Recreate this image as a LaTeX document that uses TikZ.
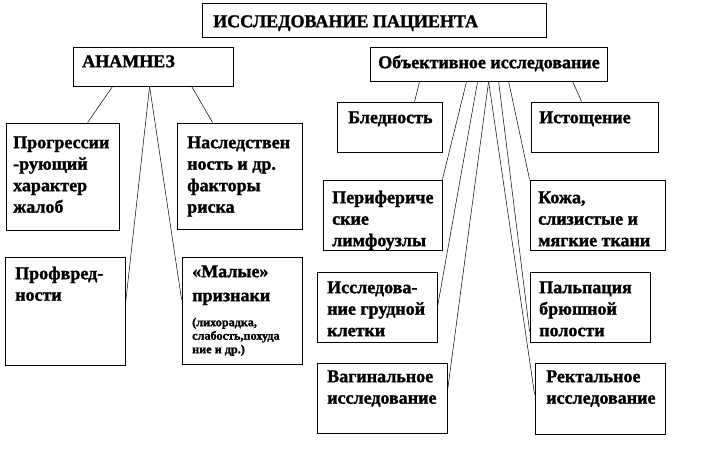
\documentclass[tikz,border=0pt]{standalone}
\usepackage{fontspec}
\setmainfont{Liberation Serif}[BoldFeatures={FakeBold=1.5}]
\usetikzlibrary{calc}
\newcommand\smallf{\fontsize{12.2}{13.5}\selectfont}
\tikzset{
  boxframe/.style={draw=black, line width=0.8pt, inner sep=0pt},
  boxtext/.style={anchor=north west, inner sep=0pt, align=left, font=\fontsize{18}{21.5}\selectfont\bfseries},
  link/.style={draw=black, line width=0.5pt},
}
\newcommand\bx[8]{%
  \node[boxframe, minimum width={(#4-#2)*1pt}, minimum height={(#5-#3)*1pt}] (#1) at ({(#2+#4)/2},{(#3+#5)/2}) {};
  \node[boxtext] (#1-t) at ({#2+#6},{#3+#7-15.05}) {\strut #8};
}
\begin{document}
\begin{tikzpicture}[x=1pt,y=-1pt]
\useasboundingbox (0,0) rectangle (702,448);
\bx{title}{202}{3}{546}{37}{11}{24}{ИССЛЕДОВАНИЕ ПАЦИЕНТА}
\bx{anam}{73}{47}{233}{86}{9}{20}{АНАМНЕЗ}
\bx{obj}{370}{47}{607}{81}{8}{21}{Объективное исследование}
\bx{prog}{6}{123}{119}{230}{7}{25}{Прогрессии\\-рующий\\характер\\жалоб}
\bx{nasl}{177}{123}{302}{229}{10}{25}{Наследствен\\ность и др.\\факторы\\риска}
\bx{prof}{5}{257}{125}{365}{10}{22}{Профвред-\\ности}
\bx{malye}{182}{257}{302}{364}{10}{20}{«Малые»\\[2.5pt]признаки\\[3.5pt]{\smallf (лихорадка,}\\[-8pt]{\smallf слабость,похуда}\\[-8pt]{\smallf ние и др.)}}
\bx{bled}{337}{102}{442}{152}{11}{21}{Бледность}
\bx{ist}{531}{102}{658}{152}{8}{21}{Истощение}
\bx{perif}{323}{180}{442}{250}{9}{23}{Перифериче\\ские\\лимфоузлы}
\bx{kozha}{530}{180}{665}{250}{8}{23}{Кожа,\\слизистые и\\мягкие ткани}
\bx{grud}{317}{272}{437}{342}{10}{21}{Исследова-\\ние грудной\\клетки}
\bx{palp}{530}{272}{650}{342}{9}{21}{Пальпация\\брюшной\\полости}
\bx{vag}{317}{363}{447}{433}{10}{19}{Вагинальное\\исследование}
\bx{rekt}{535}{363}{665}{434}{11}{19}{Ректальное\\исследование}
% connectors from АНАМНЕЗ
\draw[link] ($(anam.south west)+(40,0)$) -- ($(prog.north west)+(82,0)$);
\draw[link] ($(anam.south west)+(119,0)$) -- ($(nasl.north west)+(36,0)$);
\draw[link] ($(anam.south west)+(77,0)$) -- ($(prof.north east)+(0,48)$);
\draw[link] ($(anam.south west)+(77,0)$) -- ($(malye.north west)+(0,43)$);
% connectors from Объективное исследование
\draw[link] ($(obj.south west)+(50,0)$) -- ($(bled.north west)+(78,0)$);
\draw[link] ($(obj.south west)+(203,0)$) -- ($(ist.north west)+(51,0)$);
\draw[link] ($(obj.south west)+(97,0)$) -- (perif.north east);
\draw[link] ($(obj.south west)+(139,0)$) -- (kozha.north west);
\draw[link] ($(obj.south west)+(108,0)$) -- ($(grud.north east)+(0,36)$);
\draw[link] ($(obj.south west)+(119,0)$) -- ($(vag.north east)+(0,29)$);
\draw[link] ($(obj.south west)+(129,0)$) -- ($(palp.north west)+(0,60)$);
\draw[link] ($(obj.south west)+(119,0)$) -- ($(rekt.north west)+(0,32)$);
\end{tikzpicture}
\end{document}
